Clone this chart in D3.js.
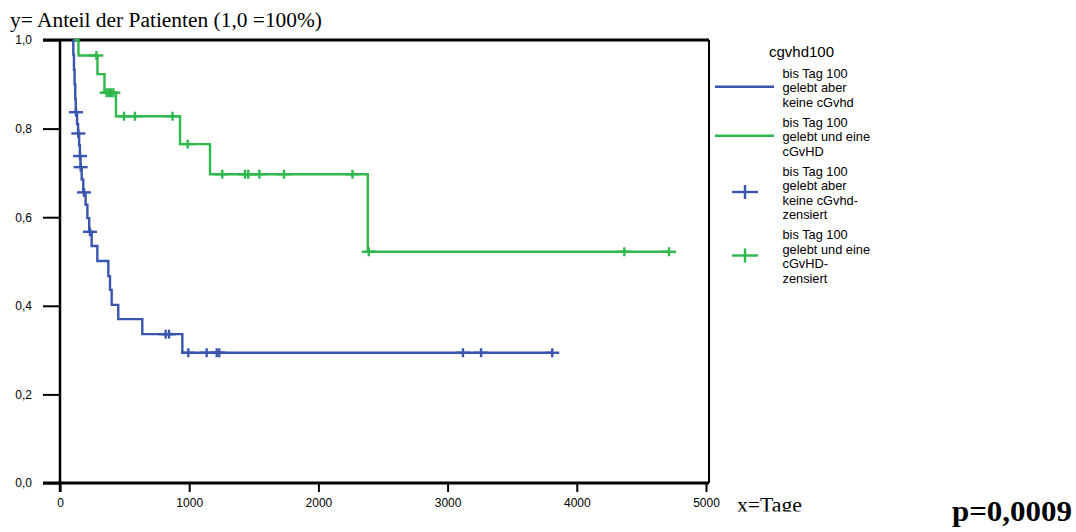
<!DOCTYPE html>
<html><head><meta charset="utf-8">
<script src="https://cdn.jsdelivr.net/npm/d3@7"></script>
<style>
  body { margin: 0; background: #fff; }
  svg { display: block; }
  .tick text { font-family: "Liberation Sans", Arial, sans-serif; font-size: 12px; fill: #000; }
</style>
</head><body>
<script>
// Kaplan–Meier survival after day 100, split by cGvHD status
const xTicks = [0, 1000, 2000, 3000, 4000, 5000];
const yTicks = [0, 0.2, 0.4, 0.6, 0.8, 1.0];
const yTickLabels = ["0,0", "0,2", "0,4", "0,6", "0,8", "1,0"];

// group: bis Tag 100 gelebt aber keine cGvhd
const blueStart = 100;
const blueEventDays = [103, 108, 113, 118, 122, 132, 140, 148, 154, 159, 168, 180, 198, 212, 226, 245, 289, 374, 387, 400, 451, 637, 947];
const blueEventSurv = [0.967, 0.933, 0.900, 0.867, 0.837, 0.810, 0.789, 0.763, 0.738, 0.713, 0.685, 0.656, 0.628, 0.598, 0.567, 0.535, 0.501, 0.467, 0.436, 0.402, 0.370, 0.336, 0.294];
const blueCensorDays = [124, 142, 155, 160, 186, 232, 818, 844, 993, 1135, 1213, 1233, 3119, 3259, 3810];

// group: bis Tag 100 gelebt und eine cGvHD
const greenStart = 100;
const greenEventDays = [143, 290, 344, 433, 929, 1161, 2382];
const greenEventSurv = [0.965, 0.923, 0.881, 0.828, 0.765, 0.697, 0.522];
const greenCensorDays = [282, 361, 379, 395, 413, 495, 580, 871, 988, 1256, 1432, 1457, 1543, 1734, 2264, 2390, 4368, 4714];

const legendTitle = "cgvhd100";
const legendLabels = [
  ["bis Tag 100", "gelebt aber", "keine cGvhd"],
  ["bis Tag 100", "gelebt und eine", "cGvHD"],
  ["bis Tag 100", "gelebt aber", "keine cGvhd-", "zensiert"],
  ["bis Tag 100", "gelebt und eine", "cGvHD-", "zensiert"]
];

const BLUE = "#3a55ae";
const GREEN = "#2fb84b";

const W = 1076, H = 532;
const svg = d3.select("body").append("svg").attr("width", W).attr("height", H);

const x = d3.scaleLinear().domain([0, 5000]).range([60, 706]);
const y = d3.scaleLinear().domain([0, 1]).range([483, 40]);
const frameRight = 709;

// y axis
const yAxis = svg.append("g").attr("transform", `translate(${x(0)},0)`)
  .call(d3.axisLeft(y).tickValues(yTicks).tickSize(17).tickPadding(11)
    .tickFormat((d, i) => yTickLabels[i]));
yAxis.select(".domain").remove();
yAxis.selectAll(".tick line").attr("stroke", "#000").attr("stroke-width", 2);

// x axis
const xAxis = svg.append("g").attr("transform", `translate(0,${y(0)})`)
  .call(d3.axisBottom(x).tickValues(xTicks).tickSize(9).tickPadding(6).tickFormat(d3.format("d")));
xAxis.select(".domain").remove();
xAxis.selectAll(".tick line").attr("stroke", "#000").attr("stroke-width", 2);

// frame
const frame = svg.append("g").attr("stroke", "#000").attr("fill", "none");
frame.append("line").attr("x1", 43).attr("x2", frameRight).attr("y1", y(1)).attr("y2", y(1)).attr("stroke-width", 3);
frame.append("line").attr("x1", 43).attr("x2", frameRight).attr("y1", y(0)).attr("y2", y(0)).attr("stroke-width", 3);
frame.append("line").attr("x1", x(0)).attr("x2", x(0)).attr("y1", y(1)).attr("y2", y(0) + 9).attr("stroke-width", 2.5);
frame.append("line").attr("x1", frameRight).attr("x2", frameRight).attr("y1", y(1)).attr("y2", y(0)).attr("stroke-width", 2);

// step curves with censor marks
function survAt(days, surv, t) {
  const i = d3.bisectRight(days, t);
  return i === 0 ? 1 : surv[i - 1];
}
function drawCurve(start, days, surv, censors, color) {
  const end = d3.max(censors.concat(days));
  const pts = [[start, 1]].concat(days.map((d, i) => [d, surv[i]]));
  pts.push([end, surv[surv.length - 1]]);
  const line = d3.line().x(d => x(d[0])).y(d => y(d[1])).curve(d3.curveStepAfter);
  const g = svg.append("g");
  g.append("path").attr("d", line(pts)).attr("fill", "none")
    .attr("stroke", color).attr("stroke-width", 2.4);
  const c = g.selectAll("g.cens").data(censors).join("g")
    .attr("transform", d => `translate(${x(d)},${y(survAt(days, surv, d))})`);
  c.append("line").attr("x1", -7).attr("x2", 7).attr("stroke", color).attr("stroke-width", 2.4);
  c.append("line").attr("y1", -4.5).attr("y2", 4.5).attr("stroke", color).attr("stroke-width", 2.4);
}
drawCurve(greenStart, greenEventDays, greenEventSurv, greenCensorDays, GREEN);
drawCurve(blueStart, blueEventDays, blueEventSurv, blueCensorDays, BLUE);

// titles
svg.append("text").attr("x", 10).attr("y", 27)
  .attr("font-family", "'Liberation Serif', 'Times New Roman', serif").attr("font-size", 20.5)
  .attr("textLength", 312).attr("lengthAdjust", "spacingAndGlyphs")
  .text("y= Anteil der Patienten (1,0 =100%)");

svg.append("clipPath").attr("id", "xlabClip").append("rect")
  .attr("x", 700).attr("y", 480).attr("width", 200).attr("height", 31.5);
svg.append("text").attr("x", 737).attr("y", 512).attr("clip-path", "url(#xlabClip)")
  .attr("font-family", "'Liberation Serif', 'Times New Roman', serif").attr("font-size", 20.5)
  .attr("textLength", 65).attr("lengthAdjust", "spacingAndGlyphs")
  .text("x=Tage");

svg.append("text").attr("x", 952).attr("y", 521)
  .attr("font-family", "'Liberation Serif', 'Times New Roman', serif").attr("font-size", 29)
  .attr("font-weight", "bold")
  .attr("textLength", 120).attr("lengthAdjust", "spacingAndGlyphs")
  .text("p=0,0009");

// legend
const lg = svg.append("g").attr("font-family", "'Liberation Sans', Arial, sans-serif");
lg.append("text").attr("x", 769).attr("y", 56.5).attr("font-size", 15).text(legendTitle);
const lineH = 14.5;
const legendColors = [BLUE, GREEN, BLUE, GREEN];
let itemTop = 67.5;
legendLabels.forEach((lines, i) => {
  const cy = itemTop + (lines.length * lineH) / 2 - 2.5;
  const item = lg.append("g");
  if (i < 2) {
    item.append("line").attr("x1", 715).attr("x2", 774).attr("y1", cy).attr("y2", cy)
      .attr("stroke", legendColors[i]).attr("stroke-width", 2.4);
  } else {
    item.append("line").attr("x1", 732).attr("x2", 758).attr("y1", cy).attr("y2", cy)
      .attr("stroke", legendColors[i]).attr("stroke-width", 2.4);
    item.append("line").attr("x1", 745).attr("x2", 745).attr("y1", cy - 7).attr("y2", cy + 7)
      .attr("stroke", legendColors[i]).attr("stroke-width", 2.4);
  }
  lines.forEach((t, j) => {
    item.append("text").attr("x", 782.5).attr("y", itemTop + 10 + j * lineH)
      .attr("font-size", 12.8).text(t);
  });
  itemTop += lines.length * lineH + 5.5;
});
</script>
</body></html>
